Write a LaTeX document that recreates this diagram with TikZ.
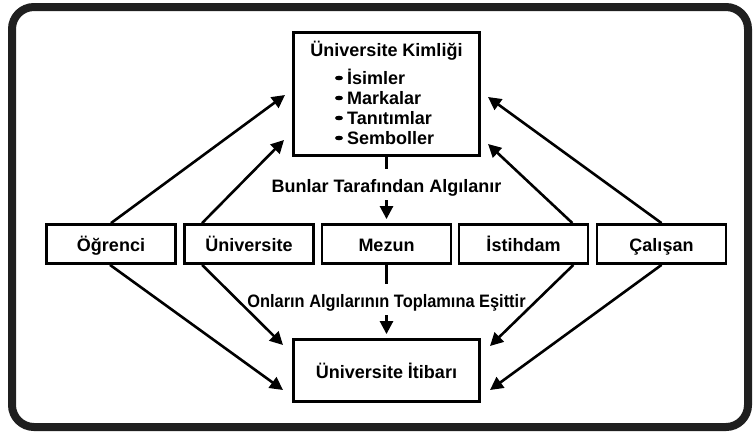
\documentclass[tikz,border=0pt]{standalone}
\usepackage{fontspec}
\setmainfont{Liberation Sans}
\newfontfamily\condfont[FakeStretch=0.91]{Liberation Sans}
\usetikzlibrary{arrows.meta,calc}
\begin{document}
\begin{tikzpicture}[x=1pt,y=-1pt,
  box/.style={draw=black,line width=2.8pt,inner sep=0pt,fill=white,font=\bfseries\fontsize{18}{21}\selectfont,text height=15pt,text depth=0pt},
  lbl/.style={font=\bfseries\fontsize{18}{21}\selectfont,inner sep=1pt},
  conn/.style={line width=2.6pt},
  arr/.style={line width=2.6pt,-{Triangle[length=13pt,width=13pt]}},
  bul/.style={fill=black}]
\useasboundingbox (0,0) rectangle (753,432);
\draw[line width=8pt,rounded corners=22pt,draw=black!88] (12,7) rectangle (748,427);

% identity box
\node[box,minimum width=186pt,minimum height=123pt] (kimlik) at (386.5,94) {};
\node[lbl,anchor=base] (kt) at (386.5,56) {Üniversite Kimliği};
\node[lbl,anchor=base west] (i1) at (346,84) {İsimler};
\node[lbl,anchor=base west] (i2) at (346,104) {Markalar};
\node[lbl,anchor=base west] (i3) at (346,124) {Tanıtımlar};
\node[lbl,anchor=base west] (i4) at (346,144) {Semboller};
\fill[bul] (339,78) ellipse (4 and 2.3);
\fill[bul] (339,98) ellipse (4 and 2.3);
\fill[bul] (339,118) ellipse (4 and 2.3);
\fill[bul] (339,138) ellipse (4 and 2.3);

% middle row
\node[box,minimum width=129pt,minimum height=39pt] (ogr) at (111,244) {Öğrenci};
\node[box,minimum width=129pt,minimum height=39pt] (uni) at (249,244) {Üniversite};
\node[box,minimum width=129pt,minimum height=39pt] (mez) at (386.5,244) {Mezun};
\node[box,minimum width=129pt,minimum height=39pt] (ist) at (523.5,244) {İstihdam};
\node[box,minimum width=129pt,minimum height=39pt] (cal) at (661.5,244) {Çalışan};

% reputation box
\node[box,minimum width=186pt,minimum height=62pt] (itibar) at (386.5,370.5) {Üniversite İtibarı};

% labels on vertical connectors
\node[lbl,anchor=base,inner ysep=4pt] (l1) at (386.5,192) {Bunlar Tarafından Algılanır};
\node[lbl,anchor=base,inner ysep=4pt,font=\condfont\bfseries\fontsize{18}{21}\selectfont] (l2) at (386.5,307) {Onların Algılarının Toplamına Eşittir};

\draw[conn,shorten >=6pt] (kimlik.south) -- (l1.north);
\draw[arr,shorten >=4pt] (l1.south) -- (mez.north);
\draw[conn,shorten >=6pt] (mez.south) -- (l2.north);
\draw[arr,shorten >=4pt] (l2.south) -- (itibar.north);

% arrow end points
\coordinate (a1) at (285,95);
\coordinate (a2) at (284,140);
\coordinate (a3) at (488,97);
\coordinate (a4) at (488,144);
\coordinate (b1) at (283,345);
\coordinate (b2) at (283,390);
\coordinate (b3) at (490,346);
\coordinate (b4) at (490,390);

% upward arrows
\draw[arr] (ogr.north) -- (a1);
\draw[arr] ($(uni.north west)+(19,0)$) -- (a2);
\draw[arr] ($(ist.north east)+(-17,0)$) -- (a4);
\draw[arr] (cal.north) -- (a3);

% downward arrows
\draw[arr] ($(ogr.south)+(-1,0)$) -- (b2);
\draw[arr] ($(uni.south west)+(19,0)$) -- (b1);
\draw[arr] ($(ist.south east)+(-16,0)$) -- (b3);
\draw[arr] (cal.south) -- (b4);
\end{tikzpicture}
\end{document}
